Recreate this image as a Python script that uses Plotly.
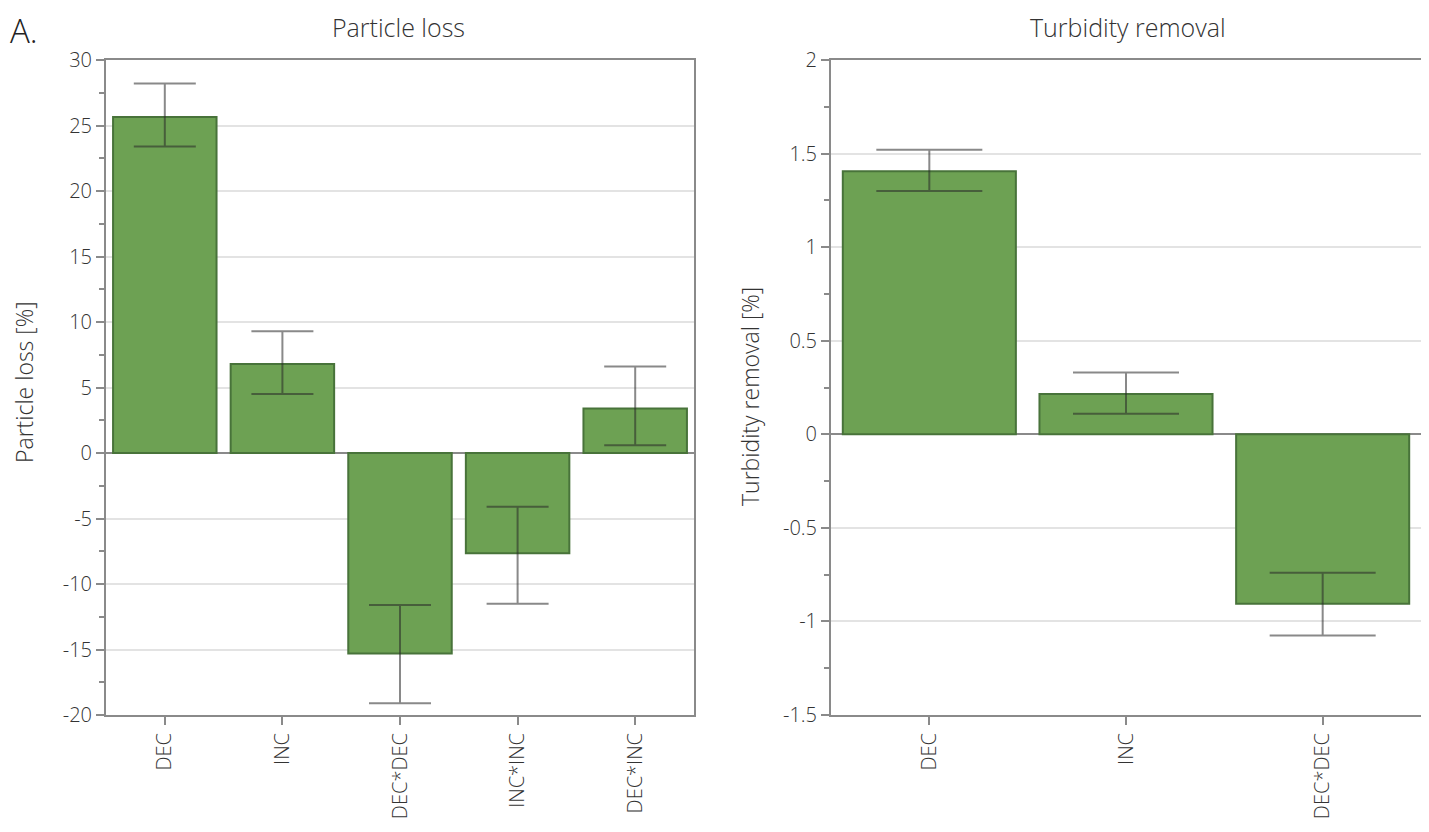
import plotly.graph_objects as go

# Particle loss
pl_cats = ["DEC", "INC", "DEC*DEC", "INC*INC", "DEC*INC"]
pl_vals = [25.65, 6.8, -15.3, -7.65, 3.4]
pl_err_hi = [28.2, 9.3, -11.6, -4.1, 6.6]
pl_err_lo = [23.4, 4.5, -19.1, -11.5, 0.6]
pl_ticks = [-20, -15, -10, -5, 0, 5, 10, 15, 20, 25, 30]

# Turbidity removal
tr_cats = ["DEC", "INC", "DEC*DEC"]
tr_vals = [1.405, 0.215, -0.905]
tr_err_hi = [1.52, 0.33, -0.74]
tr_err_lo = [1.30, 0.11, -1.075]
tr_ticks = [-1.5, -1, -0.5, 0, 0.5, 1, 1.5, 2]

FILL = "#6da153"
EDGE = "#48733a"
ERR = "rgba(40,40,40,0.55)"
AX = "#8a8a8a"
FONT = "'Open Sans', Lato, sans-serif"

# page offset (body margin) compensation
OFF = 8
W, H = 1429 - 2 * OFF, 832 - 2 * OFF

def px(x):
    return (x - OFF) / W

def py(y):
    return 1 - (y - OFF) / H

fig = go.Figure()

def add_bars(cats, vals, hi, lo, xa, ya, capw):
    fig.add_trace(go.Bar(
        x=cats, y=vals, xaxis=xa, yaxis=ya,
        marker=dict(color=FILL, line=dict(color=EDGE, width=2)),
        error_y=dict(type="data", symmetric=False,
                     array=[h - v for h, v in zip(hi, vals)],
                     arrayminus=[v - l for l, v in zip(lo, vals)],
                     color=ERR, thickness=2, width=capw),
        showlegend=False))

add_bars(pl_cats, pl_vals, pl_err_hi, pl_err_lo, "x", "y", 31)
add_bars(tr_cats, tr_vals, tr_err_hi, tr_err_lo, "x2", "y2", 53)

def lbl(v):
    return "%g" % v

TF = dict(size=20, color="#333", family=FONT, weight=300)

xcommon = dict(showline=True, linecolor=AX, linewidth=2, mirror=True,
               ticks="outside", ticklen=8, tickwidth=2, tickcolor=AX,
               tickangle=-90, tickfont=TF, automargin=False,
               showgrid=False, zeroline=False, fixedrange=True)
ycommon = dict(showline=True, linecolor=AX, linewidth=2, mirror=True,
               ticks="outside", ticklen=8, tickwidth=2, tickcolor=AX,
               tickfont=TF, automargin=False,
               showgrid=True, gridcolor="#e3e3e3", gridwidth=2,
               zeroline=True, zerolinecolor=AX, zerolinewidth=2)

fig.update_layout(
    width=W, height=H,
    margin=dict(l=0, r=0, t=0, b=0, autoexpand=False),
    paper_bgcolor="white", plot_bgcolor="white",
    bargap=0.12,
    font=dict(family=FONT, color="#333"),
    xaxis=dict(domain=[px(106), px(694)], anchor="y", **xcommon),
    yaxis=dict(domain=[py(715), py(60)], anchor="x", range=[-20, 30],
               tickmode="array", tickvals=pl_ticks, ticktext=[lbl(v) for v in pl_ticks],
               minor=dict(dtick=2.5, ticks="outside", ticklen=5, tickwidth=2,
                          tickcolor=AX, showgrid=False),
               **ycommon),
    xaxis2=dict(domain=[px(831), px(1421)], anchor="y2", **xcommon),
    yaxis2=dict(domain=[py(715), py(60)], anchor="x2", range=[-1.5, 2],
                tickmode="array", tickvals=tr_ticks, ticktext=[lbl(v) for v in tr_ticks],
                minor=dict(dtick=0.25, ticks="outside", ticklen=5, tickwidth=2,
                           tickcolor=AX, showgrid=False),
                **ycommon),
    annotations=[
        dict(text="Particle loss", x=px(398), y=py(27), xanchor="center", yanchor="middle",
             xref="paper", yref="paper", showarrow=False,
             font=dict(size=25, family=FONT, color="#333", weight=300)),
        dict(text="Turbidity removal", x=px(1128), y=py(27), xanchor="center", yanchor="middle",
             xref="paper", yref="paper", showarrow=False,
             font=dict(size=25, family=FONT, color="#333", weight=300)),
        dict(text="Particle loss [%]", x=px(24), y=py(382), textangle=-90,
             xanchor="center", yanchor="middle",
             xref="paper", yref="paper", showarrow=False,
             font=dict(size=23, family=FONT, color="#333", weight=300)),
        dict(text="Turbidity removal [%]", x=px(750), y=py(396), textangle=-90,
             xanchor="center", yanchor="middle",
             xref="paper", yref="paper", showarrow=False,
             font=dict(size=23, family=FONT, color="#333", weight=300)),
        dict(text="A.", x=0, y=py(30), xref="paper", yref="paper",
             xanchor="left", yanchor="middle", showarrow=False,
             font=dict(size=33, family=FONT, color="#222", weight=300)),
    ],
)

fig.write_html("out.html")
